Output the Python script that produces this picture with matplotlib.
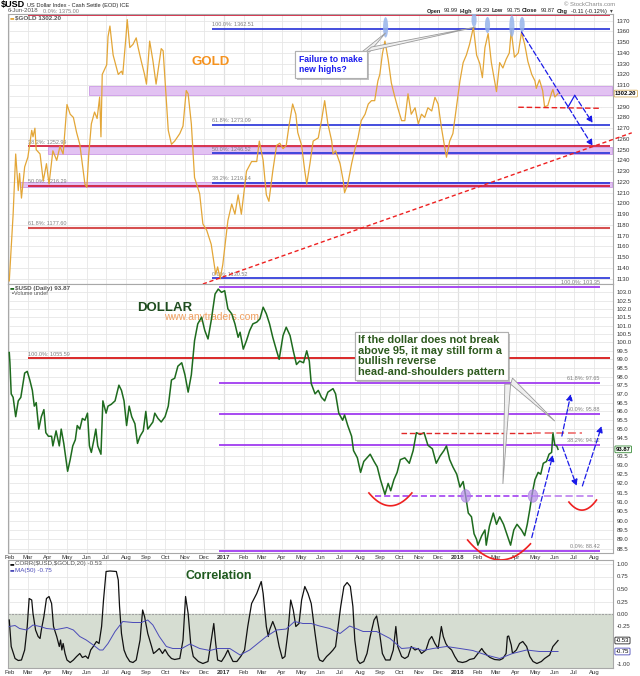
import numpy as np
import matplotlib
matplotlib.use('Agg')
import matplotlib.pyplot as plt
import matplotlib.dates as mdates
from matplotlib.patches import Ellipse, Polygon
from matplotlib.ticker import NullLocator
import matplotlib.patheffects as pe

plt.rcParams['font.family'] = ['Liberation Sans', 'DejaVu Sans']

# ---------------- data ----------------
gold_dates = ['2016-02-01', '2016-02-07', '2016-02-11', '2016-02-15', '2016-02-17', '2016-02-20', '2016-02-25',
              '2016-03-01', '2016-03-07', '2016-03-09', '2016-03-12', '2016-03-14', '2016-03-20', '2016-03-25',
              '2016-03-30', '2016-04-03', '2016-04-09', '2016-04-15', '2016-04-20', '2016-04-25', '2016-05-01',
              '2016-05-06', '2016-05-11', '2016-05-16', '2016-05-21', '2016-05-29', '2016-06-01', '2016-06-04',
              '2016-06-08', '2016-06-13', '2016-06-17', '2016-06-21', '2016-06-23', '2016-06-25', '2016-07-02',
              '2016-07-04', '2016-07-07', '2016-07-12', '2016-07-16', '2016-07-20', '2016-07-25', '2016-07-27',
              '2016-08-01', '2016-08-03', '2016-08-07', '2016-08-12', '2016-08-17', '2016-08-20', '2016-08-25',
              '2016-08-30', '2016-09-02', '2016-09-07', '2016-09-12', '2016-09-17', '2016-09-25', '2016-09-28',
              '2016-10-01', '2016-10-06', '2016-10-11', '2016-10-16', '2016-10-24', '2016-10-29', '2016-11-03',
              '2016-11-06', '2016-11-11', '2016-11-16', '2016-11-24', '2016-11-29', '2016-12-05', '2016-12-12',
              '2016-12-19', '2016-12-22', '2016-12-26', '2016-12-30',
              '2017-01-07', '2017-01-13', '2017-01-18', '2017-01-23', '2017-01-28', '2017-02-05', '2017-02-13',
              '2017-02-21', '2017-02-25', '2017-03-03', '2017-03-08', '2017-03-12', '2017-03-18', '2017-03-24',
              '2017-03-29', '2017-04-03', '2017-04-08', '2017-04-12', '2017-04-18', '2017-04-23', '2017-04-26',
              '2017-05-02', '2017-05-07', '2017-05-10', '2017-05-15', '2017-05-20', '2017-05-28', '2017-06-02',
              '2017-06-07', '2017-06-12', '2017-06-18', '2017-06-20', '2017-06-24', '2017-07-01', '2017-07-06',
              '2017-07-08', '2017-07-13', '2017-07-19', '2017-07-24', '2017-07-29', '2017-08-03', '2017-08-09',
              '2017-08-14', '2017-08-19', '2017-08-24', '2017-08-29', '2017-09-01', '2017-09-05', '2017-09-09',
              '2017-09-14', '2017-09-19', '2017-09-24', '2017-09-29', '2017-10-05', '2017-10-10', '2017-10-15',
              '2017-10-20', '2017-10-26', '2017-10-31', '2017-11-05', '2017-11-10', '2017-11-15', '2017-11-21',
              '2017-11-26', '2017-12-01', '2017-12-06', '2017-12-11', '2017-12-14', '2017-12-19', '2017-12-24',
              '2017-12-30',
              '2018-01-04', '2018-01-09', '2018-01-14', '2018-01-19', '2018-01-25', '2018-01-30', '2018-02-04',
              '2018-02-08', '2018-02-12', '2018-02-17', '2018-02-22', '2018-02-27', '2018-03-02', '2018-03-07',
              '2018-03-12', '2018-03-17', '2018-03-22', '2018-03-25', '2018-03-30', '2018-04-05', '2018-04-10',
              '2018-04-15', '2018-04-20', '2018-04-26', '2018-05-01', '2018-05-03', '2018-05-08', '2018-05-13',
              '2018-05-16', '2018-05-21', '2018-05-27', '2018-05-29', '2018-06-01', '2018-06-06']
gold_close = [1128, 1190, 1246, 1212, 1228, 1205, 1234,
              1243, 1268, 1262, 1270, 1250, 1246, 1221,
              1237, 1218, 1249, 1240, 1253, 1246, 1292,
              1283, 1280, 1266, 1255, 1218, 1215, 1246,
              1274, 1285, 1279, 1299, 1262, 1320, 1329,
              1355, 1365, 1338, 1329, 1320, 1323, 1320,
              1355, 1371, 1345, 1348, 1354, 1345, 1332,
              1320, 1311, 1351, 1333, 1311, 1344, 1342,
              1314, 1268, 1255, 1258, 1265, 1272, 1305,
              1302, 1274, 1224, 1209, 1181, 1175, 1162,
              1134, 1141, 1130, 1143,
              1184, 1199.5, 1190, 1208, 1190, 1230, 1239,
              1239, 1258, 1240, 1208, 1202, 1230, 1254,
              1256, 1251, 1254, 1271, 1292.5, 1283, 1266,
              1254, 1230, 1218, 1237, 1258, 1261, 1277,
              1295.6, 1274, 1258, 1246, 1249, 1237, 1221,
              1210, 1218, 1237, 1250, 1261, 1277, 1283,
              1292.5, 1295.6, 1295.6, 1314, 1320, 1339, 1351,
              1334, 1312, 1300, 1289, 1277, 1277, 1302,
              1283, 1289, 1274, 1283, 1280, 1289, 1286,
              1298.7, 1292.5, 1271, 1253, 1243, 1258, 1265,
              1292,
              1314, 1331, 1338, 1348, 1364, 1338, 1330,
              1317, 1345, 1358, 1331, 1314, 1304, 1331,
              1326, 1334, 1340, 1360.7, 1336, 1340, 1359,
              1348, 1332, 1320, 1314, 1307, 1315, 1305,
              1290, 1291, 1303, 1306, 1299, 1302.2]

usd_dates = ['2016-02-01', '2016-02-02', '2016-02-04', '2016-02-07', '2016-02-11', '2016-02-15', '2016-02-19',
             '2016-02-22', '2016-02-25', '2016-02-29', '2016-03-04', '2016-03-08', '2016-03-11', '2016-03-14',
             '2016-03-18', '2016-03-22', '2016-03-26', '2016-03-29', '2016-04-02', '2016-04-07', '2016-04-09',
             '2016-04-14', '2016-04-19', '2016-04-22', '2016-04-26', '2016-05-02', '2016-05-06', '2016-05-10',
             '2016-05-14', '2016-05-17', '2016-05-21', '2016-05-25', '2016-05-29', '2016-06-02', '2016-06-05',
             '2016-06-08', '2016-06-12', '2016-06-15', '2016-06-18', '2016-06-23', '2016-06-26', '2016-07-01',
             '2016-07-04', '2016-07-09', '2016-07-15', '2016-07-21', '2016-07-25', '2016-07-29', '2016-08-02',
             '2016-08-06', '2016-08-10', '2016-08-15', '2016-08-19', '2016-08-23', '2016-08-28', '2016-09-01',
             '2016-09-04', '2016-09-08', '2016-09-12', '2016-09-15', '2016-09-20', '2016-09-25', '2016-10-01',
             '2016-10-06', '2016-10-11', '2016-10-16', '2016-10-21', '2016-10-27', '2016-11-01', '2016-11-06',
             '2016-11-11', '2016-11-16', '2016-11-21', '2016-11-27', '2016-12-02', '2016-12-07', '2016-12-12',
             '2016-12-18', '2016-12-23', '2016-12-28',
             '2017-01-02', '2017-01-07', '2017-01-13', '2017-01-18', '2017-01-23', '2017-01-26', '2017-01-31',
             '2017-02-05', '2017-02-10', '2017-02-15', '2017-02-21', '2017-02-26', '2017-03-03', '2017-03-08',
             '2017-03-13', '2017-03-18', '2017-03-24', '2017-03-28', '2017-04-03', '2017-04-08', '2017-04-14',
             '2017-04-19', '2017-04-24', '2017-04-29', '2017-05-05', '2017-05-10', '2017-05-14', '2017-05-17',
             '2017-05-23', '2017-05-28', '2017-06-02', '2017-06-07', '2017-06-12', '2017-06-20', '2017-06-24',
             '2017-06-29', '2017-07-05', '2017-07-08', '2017-07-13', '2017-07-19', '2017-07-22', '2017-07-28',
             '2017-08-02', '2017-08-07', '2017-08-12', '2017-08-17', '2017-08-23', '2017-08-28', '2017-09-02',
             '2017-09-09', '2017-09-14', '2017-09-18', '2017-09-23', '2017-09-28', '2017-10-03', '2017-10-10',
             '2017-10-17', '2017-10-23', '2017-10-28', '2017-11-03', '2017-11-09', '2017-11-15', '2017-11-22',
             '2017-11-28', '2017-12-04', '2017-12-10', '2017-12-14', '2017-12-19', '2017-12-24', '2017-12-30',
             '2018-01-04', '2018-01-09', '2018-01-13', '2018-01-17', '2018-01-22', '2018-01-26', '2018-01-30',
             '2018-02-01', '2018-02-07', '2018-02-12', '2018-02-14', '2018-02-19', '2018-02-25', '2018-03-02',
             '2018-03-07', '2018-03-13', '2018-03-18', '2018-03-24', '2018-03-29', '2018-04-03', '2018-04-10',
             '2018-04-15', '2018-04-19', '2018-04-23', '2018-04-27', '2018-05-01', '2018-05-06', '2018-05-10',
             '2018-05-14', '2018-05-19', '2018-05-23', '2018-05-27', '2018-05-29', '2018-06-01', '2018-06-04',
             '2018-06-06']
usd_close = [99.4, 98.8, 97.0, 96.8, 95.7, 96.6, 96.8,
             97.5, 98.2, 98.3, 97.8, 97.2, 96.3, 96.5,
             95.0, 95.7, 96.1, 94.8, 94.6, 94.6, 94.06,
             94.9, 94.06, 95.0, 94.2, 92.66, 93.3, 94.06,
             94.4, 95.2, 95.0, 95.6, 95.5, 95.9, 94.06,
             93.7, 94.4, 95.0, 94.06, 93.6, 96.6, 95.9,
             96.3, 96.4, 96.6, 97.5, 97.2, 96.6, 95.2,
             96.3, 95.7, 95.3, 94.2, 94.6, 94.9, 96.0,
             95.0, 95.2, 95.4, 95.9, 95.6, 95.4, 95.7,
             96.3, 97.8, 97.9, 98.6, 98.8, 98.1, 97.1,
             98.1, 100.1, 101.1, 101.5, 100.7, 100.2, 101.3,
             102.9, 103.2, 103.0,
             103.1, 102.0, 101.7, 101.1, 100.3, 100.6, 99.6,
             100.1, 100.7, 101.1, 101.2, 101.4, 102.1, 101.7,
             101.1, 100.3, 99.5, 99.0, 100.4, 100.9, 100.4,
             99.5, 98.7, 98.9, 98.8, 99.5, 98.9, 97.6,
             97.0, 97.2, 96.8, 96.6, 97.1, 97.3, 97.0,
             95.9, 95.5, 95.8, 95.2, 94.6, 93.8, 93.4,
             92.6, 93.2, 93.4, 93.6, 93.2, 92.9, 92.2,
             91.4, 92.0, 91.6, 92.2, 92.6, 93.3, 93.4,
             93.1, 93.8, 94.8, 94.7, 94.8, 94.1, 93.9,
             93.1, 93.5, 93.8, 94.06, 93.3, 92.9, 92.5,
             91.8, 92.1, 91.3, 90.4, 90.2, 89.3, 89.0,
             88.7, 89.2, 89.5, 88.7, 89.7, 90.4, 89.8,
             90.2, 89.8, 89.3, 88.7, 89.5, 89.8, 89.5,
             89.2, 89.8, 90.6, 91.5, 92.2, 92.6, 92.5,
             93.1, 93.2, 93.6, 93.7, 94.8, 94.1, 94.06,
             93.87]

corr_dates = ['2016-02-01', '2016-02-04', '2016-02-10', '2016-02-15', '2016-02-20', '2016-02-25', '2016-02-29',
              '2016-03-03', '2016-03-07', '2016-03-09', '2016-03-13', '2016-03-17', '2016-03-20', '2016-03-22',
              '2016-03-26', '2016-03-30', '2016-04-03', '2016-04-07', '2016-04-10', '2016-04-15', '2016-04-19',
              '2016-04-21', '2016-04-23', '2016-04-25', '2016-04-28', '2016-05-01', '2016-05-06', '2016-05-11',
              '2016-05-16', '2016-05-21', '2016-05-25', '2016-05-30', '2016-06-03', '2016-06-07', '2016-06-11',
              '2016-06-16', '2016-06-20', '2016-06-24', '2016-06-27', '2016-07-01', '2016-07-07', '2016-07-17',
              '2016-07-20', '2016-07-22', '2016-07-25', '2016-07-29', '2016-08-02', '2016-08-07', '2016-08-12',
              '2016-08-17', '2016-08-23', '2016-08-27', '2016-08-30', '2016-09-04', '2016-09-10', '2016-09-13',
              '2016-09-17', '2016-09-22', '2016-09-27', '2016-10-01', '2016-10-06', '2016-10-11', '2016-10-16',
              '2016-10-24', '2016-10-29', '2016-11-02', '2016-11-06', '2016-11-10', '2016-11-14', '2016-11-22',
              '2016-11-29', '2016-12-07', '2016-12-12', '2016-12-16', '2016-12-19', '2016-12-22', '2016-12-28',
              '2017-01-02', '2017-01-07', '2017-01-10', '2017-01-15', '2017-01-21', '2017-01-27', '2017-02-02',
              '2017-02-07', '2017-02-13', '2017-02-21', '2017-02-25', '2017-02-28', '2017-03-03', '2017-03-05',
              '2017-03-08', '2017-03-11', '2017-03-13', '2017-03-18', '2017-03-23', '2017-03-28', '2017-04-02',
              '2017-04-06', '2017-04-11', '2017-04-15', '2017-04-19', '2017-04-23', '2017-04-28', '2017-05-02',
              '2017-05-07', '2017-05-12', '2017-05-17', '2017-05-23', '2017-05-28', '2017-05-30', '2017-06-04',
              '2017-06-10', '2017-06-15', '2017-06-20', '2017-06-24', '2017-06-28', '2017-07-02', '2017-07-07',
              '2017-07-12', '2017-07-17', '2017-07-21', '2017-07-24', '2017-07-28', '2017-08-01', '2017-08-07',
              '2017-08-12', '2017-08-17', '2017-08-23', '2017-08-27', '2017-08-31', '2017-09-05', '2017-09-10',
              '2017-09-17', '2017-09-22', '2017-09-26', '2017-09-29', '2017-10-05', '2017-10-10', '2017-10-15',
              '2017-10-20', '2017-10-26', '2017-10-31', '2017-11-05', '2017-11-12', '2017-11-17', '2017-11-21',
              '2017-11-26', '2017-12-01', '2017-12-06', '2017-12-09', '2017-12-13', '2017-12-16', '2017-12-22',
              '2017-12-27',
              '2018-01-01', '2018-01-08', '2018-01-14', '2018-01-19', '2018-01-26', '2018-02-01', '2018-02-07',
              '2018-02-10', '2018-02-15', '2018-02-20', '2018-02-27', '2018-03-07', '2018-03-12', '2018-03-17',
              '2018-03-19', '2018-03-21', '2018-03-25', '2018-03-27', '2018-04-02', '2018-04-07', '2018-04-12',
              '2018-04-18', '2018-04-23', '2018-04-28', '2018-05-04', '2018-05-11', '2018-05-16', '2018-05-24',
              '2018-05-29', '2018-06-06']
corr_vals = [-0.12, -0.65, -0.89, -0.93, -0.92, -0.72, -0.25,
             0.31, 0.28, 0.01, -0.32, -0.45, -0.49, -0.32,
             -0.05, 0.31, 0.35, 0.21, -0.25, -0.45, -0.65,
             -0.52, -0.72, -0.59, -0.79, -0.92, -0.97, -0.92,
             -0.85, -0.79, -0.87, -0.84, -0.89, -0.72, -0.65,
             -0.55, -0.59, -0.25, 0.28, 0.85, 0.86, 0.85,
             0.68, 0.15, -0.39, -0.72, -0.85, -0.95, -0.97,
             -0.92, -0.52, 0.08, -0.05, -0.39, -0.65, -0.79,
             -0.75, -0.69, -0.79, -0.71, -0.82, -0.89, -0.91,
             -0.89, -0.52, 0.35, 0.01, -0.59, -0.85, -0.95,
             -0.99, -0.95, -0.52, -0.19, -0.59, -0.92, -0.95,
             -0.85, -0.72, -0.82, -0.95, -0.95, -0.85, -0.72,
             -0.25, 0.21, 0.41, 0.55, 0.65, 0.41, 0.15,
             -0.25, -0.45, -0.32, -0.15, -0.32, -0.65, -0.89,
             -0.85, -0.32, 0.28, 0.08, -0.25, -0.19, 0.28,
             0.55, 0.41, 0.21, -0.39, -0.85, -0.92, -0.95,
             -0.85, -0.79, -0.72, -0.65, -0.25, 0.15, 0.55,
             0.63, 0.55, 0.15, -0.52, -0.92, -0.99, -0.95,
             -0.79, -0.45, -0.12, -0.04, -0.32, -0.79, -0.92,
             -0.92, -0.72, -0.25, -0.65, -0.85, -0.89, -0.85,
             -0.65, -0.72, -0.69, -0.79, -0.72, -0.52, -0.45,
             -0.59, -0.69, -0.25, -0.45, -0.59, -0.65, -0.72,
             -0.85,
             -0.95, -0.97, -0.95, -0.91, -0.89, -0.79, -0.69,
             -0.75, -0.82, -0.87, -0.91, -0.92, -0.89, -0.79,
             -0.45, -0.44, -0.62, -0.79, -0.72, -0.59, -0.55,
             -0.65, -0.85, -0.95, -0.99, -0.95, -0.89, -0.82,
             -0.65, -0.53]

ma_dates = ['2016-02-01', '2016-02-10', '2016-02-17', '2016-02-28', '2016-03-09', '2016-03-20', '2016-03-30',
            '2016-04-15', '2016-05-01', '2016-05-11', '2016-05-21', '2016-05-31', '2016-06-11', '2016-06-21',
            '2016-06-26', '2016-07-04', '2016-07-15', '2016-07-27', '2016-08-12', '2016-08-25', '2016-09-04',
            '2016-09-12', '2016-09-22', '2016-10-03', '2016-10-13', '2016-10-27', '2016-11-09', '2016-11-24',
            '2016-12-10', '2016-12-22', '2017-01-10', '2017-01-26', '2017-02-10', '2017-03-08', '2017-03-24',
            '2017-04-08', '2017-04-21', '2017-05-04', '2017-05-17', '2017-05-30', '2017-06-15', '2017-07-01',
            '2017-07-16', '2017-08-06', '2017-08-27', '2017-09-17', '2017-10-05', '2017-10-23', '2017-11-07',
            '2017-11-23', '2017-12-14', '2018-01-04', '2018-01-24', '2018-02-14', '2018-03-07', '2018-03-27',
            '2018-04-18', '2018-05-08', '2018-06-06']
ma_vals = [-0.25, -0.23, -0.29, -0.32, -0.22, -0.25, -0.29,
           -0.31, -0.27, -0.32, -0.45, -0.52, -0.62, -0.72,
           -0.72, -0.59, -0.35, -0.15, -0.17, -0.17, -0.12,
           -0.22, -0.45, -0.65, -0.69, -0.69, -0.60, -0.69,
           -0.73, -0.69, -0.69, -0.82, -0.72, -0.45, -0.32,
           -0.30, -0.15, -0.19, -0.19, -0.24, -0.29, -0.39,
           -0.24, -0.35, -0.35, -0.49, -0.69, -0.67, -0.73,
           -0.69, -0.65, -0.69, -0.73, -0.82, -0.89, -0.79,
           -0.72, -0.75, -0.75]

# Fibonacci / support levels
gold_red_levels = [1375.00, 1252.99, 1216.29, 1177.60]
gold_red_labels = ['0.0%: 1375.00', '38.2%: 1252.99', '50.0%: 1216.29', '61.8%: 1177.60']
gold_blue_levels = [1362.51, 1273.09, 1246.52, 1219.14, 1130.52]
gold_blue_labels = ['100.0%: 1362.51', '61.8%: 1273.09', '50.0%: 1246.52', '38.2%: 1219.14', '0.0%: 1130.52']
gold_bands = [(1300.9, 1309.0), (1246.0, 1252.8), (1215.0, 1219.7)]
gold_band_start = ['2016-06-04', '2016-04-01', '2016-02-17']
usd_levels = [103.35, 97.65, 95.88, 94.12, 88.42]
usd_labels = ['100.0%: 103.35', '61.8%: 97.65', '50.0%: 95.88', '38.2%: 94.12', '0.0%: 88.42']
usd_red_level = 99.05
peak_dates = ['2017-09-10', '2018-01-26', '2018-02-16', '2018-03-26', '2018-04-11']
peak_vals = [1363.8, 1370.7, 1366.0, 1365.0, 1366.5]
peak_heights = [19, 13, 15, 20, 14]


def d(s):
    return mdates.datestr2num(s)


fig = plt.figure(figsize=(6.4, 6.76), dpi=100)


def panel(top, bottom):
    return fig.add_axes([8 / 640, 1 - bottom / 676, 605 / 640, (bottom - top) / 676])


ax_g = panel(14, 284)
ax_d = panel(284, 553)
ax_c = panel(560, 668)

x0, x1 = d('2016-01-30'), d('2018-08-30 18:00')
months, mlabels = [], []
for y in (2016, 2017, 2018):
    for m in range(1, 13):
        t = d('%d-%02d-01' % (y, m))
        if x0 < t < x1:
            months.append(t)
            mlabels.append(str(y) if m == 1 else mdates.num2date(t).strftime('%b'))

for ax in (ax_g, ax_d, ax_c):
    ax.set_xlim(x0, x1)
    ax.set_xticks(months)
    ax.yaxis.tick_right()
    ax.tick_params(length=0, labelsize=4.3, colors='#333333', pad=2.5)
    ax.tick_params(axis='x', pad=1.5)
    ax.grid(True, color='#e6e6e6', lw=0.6)
    ax.set_axisbelow(True)
    for s in ax.spines.values():
        s.set_color('#a8a8a8')
        s.set_linewidth(0.8)
    for yr in ('2017-01-01', '2018-01-01'):
        ax.axvline(d(yr), color='#c4c4c4', lw=0.8, zorder=0.5)

lab_fs = 4.0
# ---------------- gold panel ----------------
ax_g.set_ylim(1125.1, 1376.2)
gt = list(range(1130, 1371, 10))
ax_g.set_yticks(gt)
ax_g.set_yticklabels(['' if v == 1300 else str(v) for v in gt])
ax_g.set_xticklabels([])

x_end = d('2018-08-26')
for (lo, hi), st in zip(gold_bands, gold_band_start):
    ax_g.fill_between([d(st), d('2018-08-29')], lo, hi, color='#e2c2f2', ec='#cc99e6', lw=0.6, zorder=1)
for lv, lb in zip(gold_red_levels, gold_red_labels):
    c = '#d65050' if lv == 1177.60 else '#d01030'
    ax_g.hlines(lv, d('2016-03-01'), x_end, color=c, lw=1.5 if lv == 1177.60 else 1.2, zorder=2)
    lx = d('2016-03-25') if lv == 1375.00 else d('2016-03-01')
    ax_g.annotate(lb, (lx, lv), xytext=(0, 1.2), textcoords='offset points',
                  fontsize=lab_fs, color='#808080', va='bottom', annotation_clip=False)
for lv, lb in zip(gold_blue_levels, gold_blue_labels):
    ax_g.hlines(lv, d('2016-12-13'), x_end, color='#2530d8', lw=1.2, zorder=2)
    ax_g.annotate(lb, (d('2016-12-13'), lv), xytext=(0, 1.2), textcoords='offset points',
                  fontsize=lab_fs, color='#808080', va='bottom')

ax_g.plot([d(s) for s in gold_dates], gold_close, color='#e3a637', lw=0.9, zorder=3)

for pd_, pv, ph in zip(peak_dates, peak_vals, peak_heights):
    ax_g.add_patch(Ellipse((d(pd_), pv), width=8, height=ph, fc='#97b4ea', ec='none', alpha=0.85, zorder=4))

blue = '#1a1ae8'
dash = (0, (4, 2))
ax_g.annotate('', xy=(d('2018-07-30'), 1253.4), xytext=(d('2018-04-10'), 1359.5),
              arrowprops=dict(arrowstyle='-|>', color=blue, lw=0.9, ls=dash, mutation_scale=9,
                              shrinkA=0, shrinkB=0), zorder=5)
ax_g.plot([d('2018-06-21'), d('2018-07-02')], [1289, 1300.5], color=blue, lw=0.9, zorder=5)
ax_g.annotate('', xy=(d('2018-07-30'), 1274.8), xytext=(d('2018-07-02'), 1300.5),
              arrowprops=dict(arrowstyle='-|>', color=blue, lw=0.9, ls=dash, mutation_scale=9,
                              shrinkA=0, shrinkB=0), zorder=5)
ax_g.plot([d('2018-04-05'), d('2018-08-13')], [1289.5, 1288.5], color='#e82020', lw=1.0, ls=dash, zorder=5)
ax_g.plot([d('2016-11-29'), d('2018-09-29')], [1125.1, 1265.7], color='#ee2020', lw=1.0,
          ls=(0, (3, 2)), clip_on=False, zorder=5)

ax_g.text(d('2016-12-11'), 1331.6, 'GOLD', fontsize=9.5, fontweight='bold', color='#f5921e',
          ha='center', va='center', zorder=6)

for tri in ([('2017-08-04', 1340.9), ('2017-08-16', 1340.9), ('2017-09-10', 1358.6)],
            [('2017-08-10', 1340.9), ('2017-08-19', 1345.5), ('2018-01-29', 1364.1)]):
    ax_g.add_patch(Polygon([(d(a), b) for a, b in tri], closed=True, fc='#efefef', ec='#9a9a9a',
                           lw=0.6, zorder=6))
t1 = ax_g.text(d('2017-04-28'), 1338.5, 'Failure to make\nnew highs?', fontsize=6.2, fontweight='bold',
               color='#1a1aee', ha='left', va='top', linespacing=1.25, zorder=7,
               bbox=dict(boxstyle='square,pad=0.45', fc='white', ec='#b0b0b0', lw=0.8))
t1.get_bbox_patch().set_path_effects([pe.withSimplePatchShadow(offset=(1.5, -1.5), shadow_rgbFace='#888888',
                                                               alpha=0.5), pe.Normal()])

ax_g.text(0.002, 0.985, '▬', transform=ax_g.transAxes, fontsize=3.5, color='#e3a637', va='center',
          family=['DejaVu Sans'])
ax_g.text(0.012, 0.985, '$GOLD 1302.20', transform=ax_g.transAxes, fontsize=4.5, fontweight='bold',
          color='#555555', va='center', parse_math=False)
ax_g.annotate('1302.20', xy=(1, 1302.2), xycoords=ax_g.get_yaxis_transform(), xytext=(1.5, 0),
              textcoords='offset points', va='center', fontsize=4.2, fontweight='bold',
              bbox=dict(boxstyle='round,pad=0.15', fc='white', ec='#d8b060', lw=0.6), annotation_clip=False)

# ---------------- dollar panel ----------------
ax_d.set_yscale('log')
ax_d.set_ylim(88.29, 103.51)
dt = np.arange(88.5, 103.01, 0.5)
ax_d.set_yticks(dt)
ax_d.yaxis.set_minor_locator(NullLocator())
ax_d.set_yticklabels(['' if abs(v - 94.0) < 1e-6 else '%.1f' % v for v in dt])
ax_d.set_xticklabels(mlabels)

purple = '#a03cf0'
for lv, lb in zip(usd_levels, usd_labels):
    ax_d.hlines(lv, d('2016-12-24'), d('2018-08-10'), color=purple, lw=1.3, zorder=2, clip_on=False)
    ax_d.annotate(lb, (d('2018-08-10'), lv), xytext=(0, 1.2), textcoords='offset points', ha='right',
                  fontsize=lab_fs, color='#808080', va='bottom', annotation_clip=False)
ax_d.hlines(usd_red_level, d('2016-03-01'), x_end, color='#d81818', lw=1.3, zorder=2)
ax_d.annotate('100.0%: 1055.59', (d('2016-03-01'), usd_red_level), xytext=(0, 1.2), textcoords='offset points',
              fontsize=lab_fs, color='#808080', va='bottom')

ax_d.plot([d(s) for s in usd_dates], usd_close, color='#1e6b1e', lw=1.1, zorder=3)

ax_d.plot([d('2017-10-04'), d('2018-04-28')], [94.76, 94.76], color='#e02828', lw=1.0, ls=dash, zorder=4)
ax_d.plot([d('2018-04-28'), d('2018-07-14')], [94.76, 94.76], color='#f08080', lw=1.4, ls=dash, zorder=4)
ax_d.plot([d('2017-08-24'), d('2018-04-28')], [91.32, 91.32], color='#9a30f0', lw=1.1, ls=dash, zorder=4)
ax_d.plot([d('2018-04-28'), d('2018-07-30')], [91.32, 91.32], color='#c088f0', lw=1.3, ls=dash, zorder=4)
for cd in ('2018-01-13', '2018-04-28'):
    ax_d.add_patch(Ellipse((d(cd), 91.32), width=15, height=0.68, fc='#b48ce8', ec='#a070e0', lw=0.5,
                           alpha=0.7, zorder=5))


def smile(pts):
    xs = np.array([d(p[0]) for p in pts])
    ys = np.log([p[1] for p in pts])
    c = np.polyfit(xs - xs[0], ys, 2)
    xx = np.linspace(xs[0], xs[-1], 40)
    ax_d.plot(xx, np.exp(np.polyval(c, xx - xs[0])), color='#ee2020', lw=1.2, clip_on=False, zorder=5)


smile([('2017-08-15', 91.48), ('2017-09-17', 90.79), ('2017-10-21', 91.48)])
smile([('2018-01-16', 88.97), ('2018-03-07', 87.93), ('2018-04-24', 88.77)])
smile([('2018-06-23', 90.99), ('2018-07-15', 90.56), ('2018-08-05', 91.10)])

for a, b in ((('2018-04-26', 89.1), ('2018-05-29', 93.56)),
             (('2018-06-12', 94.61), ('2018-06-26', 96.99)),
             (('2018-06-13', 94.0), ('2018-07-05', 91.86)),
             (('2018-07-14', 91.86), ('2018-08-13', 95.17))):
    ax_d.annotate('', xy=(d(b[0]), b[1]), xytext=(d(a[0]), a[1]),
                  arrowprops=dict(arrowstyle='-|>', color=blue, lw=0.9, ls=dash, mutation_scale=9,
                                  shrinkA=0, shrinkB=0), zorder=6)

ax_d.text(d('2016-09-30'), 102.05, 'DOLLAR', fontsize=9.5, fontweight='bold', color='#1f4d1f',
          ha='center', va='center', zorder=6)
ax_d.text(d('2016-12-12'), 101.51, 'www.anytraders.com', fontsize=7.4, color='#f0a060',
          ha='center', va='center', zorder=2)

for tri in ([('2018-03-15', 97.56), ('2018-03-24', 97.56), ('2018-03-12', 91.97)],
            [('2018-03-24', 97.56), ('2018-03-27', 97.91), ('2018-06-01', 95.45)]):
    ax_d.add_patch(Polygon([(d(a), b) for a, b in tri], closed=True, fc='#efefef', ec='#9a9a9a',
                           lw=0.6, zorder=6))
t2 = ax_d.text(d('2017-07-29'), 100.43,
               'If the dollar does not break\nabove 95, it may still form a\nbullish reverse\n'
               'head-and-shoulders pattern', fontsize=7.9, fontweight='bold', color='#2d5a1e',
               ha='left', va='top', linespacing=1.08, zorder=7,
               bbox=dict(boxstyle='square,pad=0.3', fc='white', ec='#b0b0b0', lw=0.8))
t2.get_bbox_patch().set_path_effects([pe.withSimplePatchShadow(offset=(1.5, -1.5), shadow_rgbFace='#888888',
                                                               alpha=0.5), pe.Normal()])

ax_d.text(0.002, 0.985, '▬', transform=ax_d.transAxes, fontsize=3.5, color='#1e6b1e', va='center',
          family=['DejaVu Sans'])
ax_d.text(0.012, 0.985, '$USD (Daily) 93.87', transform=ax_d.transAxes, fontsize=4.5, fontweight='bold',
          color='#555555', va='center', parse_math=False)
ax_d.text(0.006, 0.964, '▪Volume undef', transform=ax_d.transAxes, fontsize=4.0, color='#555555',
          va='center', family=['Liberation Sans', 'DejaVu Sans'])
ax_d.annotate('93.87', xy=(1, 93.87), xycoords=ax_d.get_yaxis_transform(), xytext=(2, 0),
              textcoords='offset points', va='center', fontsize=4.2, fontweight='bold',
              bbox=dict(boxstyle='round,pad=0.15', fc='#f4fff4', ec='#3a8a3a', lw=0.6), annotation_clip=False)

# ---------------- correlation panel ----------------
ax_c.set_ylim(-1.08, 1.08)
ct = [1.0, 0.75, 0.5, 0.25, 0.0, -0.25, -0.5, -0.75, -1.0]
ax_c.set_yticks(ct)
ax_c.set_yticklabels(['' if v in (-0.5, -0.75) else '%.2f' % v for v in ct])
ax_c.set_xticklabels(mlabels)
ax_c.axhspan(-1.08, 0, color='#d6ddd2', zorder=0.6)
ax_c.axhline(0, color='#a0a0a0', lw=0.8, ls=(0, (2, 1)), zorder=0.7)

ax_c.plot([d(s) for s in corr_dates], corr_vals, color='#111111', lw=0.9, zorder=3)
ax_c.plot([d(s) for s in ma_dates], ma_vals, color='#4a4ab8', lw=0.7, zorder=3)

ax_c.text(d('2016-12-24'), 0.76, 'Correlation', fontsize=8.9, fontweight='bold', color='#1f5a1f',
          ha='center', va='center', zorder=6)
ax_c.text(0.002, 0.963, '▬', transform=ax_c.transAxes, fontsize=3.5, color='#111111', va='center',
          family=['DejaVu Sans'])
ax_c.text(0.012, 0.963, 'CORR($USD,$GOLD,20) -0.53', transform=ax_c.transAxes, fontsize=4.5,
          color='#555555', va='center', parse_math=False)
ax_c.text(0.002, 0.907, '▬', transform=ax_c.transAxes, fontsize=3.5, color='#4a4ab8', va='center',
          family=['DejaVu Sans'])
ax_c.text(0.012, 0.907, 'MA(50) -0.75', transform=ax_c.transAxes, fontsize=4.5, color='#4a4ab8', va='center')
for v, ec in ((-0.53, '#222222'), (-0.75, '#4a4ab8')):
    ax_c.annotate('%.2f' % v, xy=(1, v), xycoords=ax_c.get_yaxis_transform(), xytext=(2, 0),
                  textcoords='offset points', va='center', fontsize=4.2,
                  bbox=dict(boxstyle='round,pad=0.15', fc='white', ec=ec, lw=0.6), annotation_clip=False)

for ax in (ax_d, ax_c):
    for lab in ax.get_xticklabels():
        if lab.get_text() in ('2017', '2018'):
            lab.set_fontweight('bold')


# ---------------- header ----------------
def fy(py):
    return 1 - py / 676


fig.text(1 / 640, fy(5), '$USD', fontsize=6.6, fontweight='bold', va='center', parse_math=False)
fig.text(27 / 640, fy(5), 'US Dollar Index - Cash Settle (EOD) ICE', fontsize=4.1, va='center', color='#222222')
fig.text(8 / 640, fy(11), '6-Jun-2018', fontsize=4.4, va='center', color='#555555')
fig.text(615 / 640, fy(5), '© StockCharts.com', fontsize=4.2, va='center', ha='right', color='#888888')

renderer = fig.canvas.get_renderer()
hdr = [('Open', True), ('93.99', False), ('High', True), ('94.29', False), ('Low', True), ('93.75', False),
       ('Close', True), ('93.87', False), ('Chg', True), ('-0.11 (-0.12%)', False)]
xr = 607.0
for s, bold in reversed(hdr):
    t = fig.text(xr / 640, fy(11), s, fontsize=4.1, va='center', ha='right', color='#222222',
                 fontweight='bold' if bold else 'normal')
    xr -= t.get_window_extent(renderer).width + (1.5 if bold else 3.5)
fig.text(609.5 / 640, fy(11), '▾', fontsize=4.0, va='center', color='#444444', family=['DejaVu Sans'])

fig.savefig('out.png', dpi=100)
